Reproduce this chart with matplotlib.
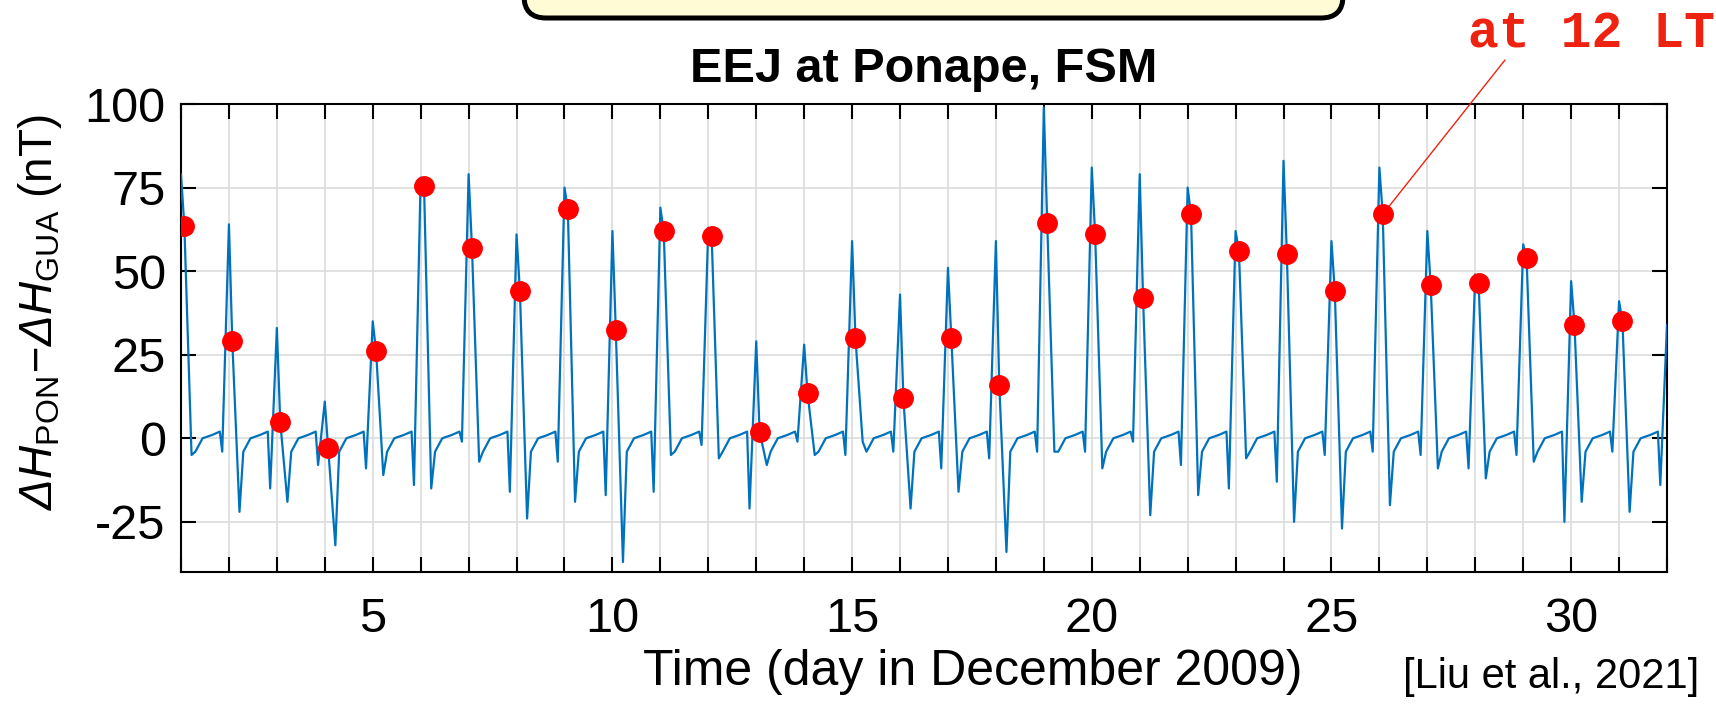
import numpy as np
import matplotlib.pyplot as plt
from matplotlib.patches import FancyBboxPatch
from matplotlib.ticker import MultipleLocator

plt.rcParams['font.family'] = ['Liberation Sans', 'DejaVu Sans']
plt.rcParams['axes.unicode_minus'] = False
plt.rcParams['mathtext.fontset'] = 'custom'
plt.rcParams['mathtext.rm'] = 'Liberation Sans:italic'
plt.rcParams['mathtext.it'] = 'Liberation Sans:italic'
plt.rcParams['mathtext.sf'] = 'Liberation Sans'

# daily values (nT), day 1..32
days = list(range(1, 33))
peak_vals = [79, 64, 33, 11, 35, 78, 79, 61, 75, 62, 69, 63, 29, 28, 59, 43,
             51, 59, 99, 81, 79, 75, 62, 83, 59, 81, 62, 49, 58, 47, 41, 34]
pre_dip = [0, -4, -15, -8, -9, -14, -1, -16, -7, -17, -16, -2, -21, -1, -5, -4,
           -9, -6, -4, -4, -1, -8, -15, -13, -5, -4, -5, -9, -5, -25, -4, -14]
post_dip = [-5, -22, -19, -32, -11, -15, -7, -24, -19, -37, -5, -6, -8, -5, -1, -21,
            -16, -34, -4, -9, -23, -17, -6, -25, -27, -20, -9, -12, -7, -19, -22, 0]
# value at 12 LT (red dots), day 1..31
noon_vals = [63.5, 29, 5, -3, 26, 75.5, 57, 44, 68.5, 32.5, 62, 60.5, 2, 13.5, 30, 12,
             30, 16, 64.5, 61, 42, 67, 56, 55, 44, 67, 46, 46.5, 54, 34, 35]
noon_offset = 0.07            # 12 LT in UT day fraction
night_levels = [-4, 0, 1, 2]  # typical night-time level after the afternoon dip

# build the trace from the daily key values
t, v = [], []
for i, d in enumerate(days):
    t += [d - 0.19, d - 0.14, d]
    v += [night_levels[3], pre_dip[i], peak_vals[i]]
    if i < len(noon_vals):
        t.append(d + noon_offset)
        v.append(noon_vals[i])
    t += [d + 0.22, d + 0.30, d + 0.45, d + 0.65]
    v += [post_dip[i], night_levels[0], night_levels[1], night_levels[2]]

noon_t = [d + noon_offset for d in days[:len(noon_vals)]]

fig = plt.figure(figsize=(17.16, 7.07), dpi=100)
ax = fig.add_axes([181 / 1716, 1 - 572 / 707, 1486 / 1716, 468 / 707])

ax.plot(t, v, color='#0072BD', lw=1.6, zorder=3)
ax.plot(noon_t, noon_vals, 'o', color='red', ms=14, zorder=4)

ax.set_xlim(1, 32)
ax.set_ylim(-40, 100)
ax.xaxis.set_major_locator(MultipleLocator(5))
ax.xaxis.set_minor_locator(MultipleLocator(1))
ax.set_yticks([-25, 0, 25, 50, 75, 100])
ax.grid(which='both', axis='x', color='#DCDCDC', lw=1.2)
ax.grid(which='major', axis='y', color='#DCDCDC', lw=1.2)
ax.set_axisbelow(True)
ax.tick_params(which='both', direction='in', top=True, right=True,
               length=11, width=1.5, labelsize=35)
ax.tick_params(axis='x', pad=18)
ax.tick_params(axis='y', pad=11)
for s in ax.spines.values():
    s.set_linewidth(1.5)

ax.set_title('EEJ at Ponape, FSM', fontsize=35, fontweight='bold', pad=16)
ax.set_xlabel('Time (day in December 2009)', fontsize=36)
ax.xaxis.set_label_coords(0.533, -0.165)
ax.set_ylabel(r'$\Delta H_{\mathsf{PON}}\!-\!\Delta H_{\mathsf{GUA}}$ (nT)', fontsize=33)
ax.yaxis.set_label_coords(-0.079, 0.556)

# yellow box cut by the top edge
box = FancyBboxPatch((524, 707 - 18), 819, 120,
                     boxstyle='round,pad=0,rounding_size=22',
                     transform=None, facecolor='#FFFCD5', edgecolor='black',
                     lw=3.6, clip_on=False)
fig.patches.append(box)

# annotation for the 12 LT points
fig.text(1715 / 1716, 1 - 34 / 707, 'at 12 LT', color='#EE2211', fontsize=37,
         fontweight='bold', family='Liberation Mono', ha='right', va='center')
ax.annotate('', xy=(26 + noon_offset, noon_vals[25]),
            xytext=(1505 / 1716, 1 - 60 / 707), textcoords='figure fraction',
            arrowprops=dict(arrowstyle='-', color='#EE2211', lw=1.0,
                            shrinkA=0, shrinkB=7),
            annotation_clip=False)

fig.text(1699 / 1716, 1 - 677 / 707, '[Liu et al., 2021]', fontsize=30,
         ha='right', va='center')

fig.savefig('out.png', dpi=100)
